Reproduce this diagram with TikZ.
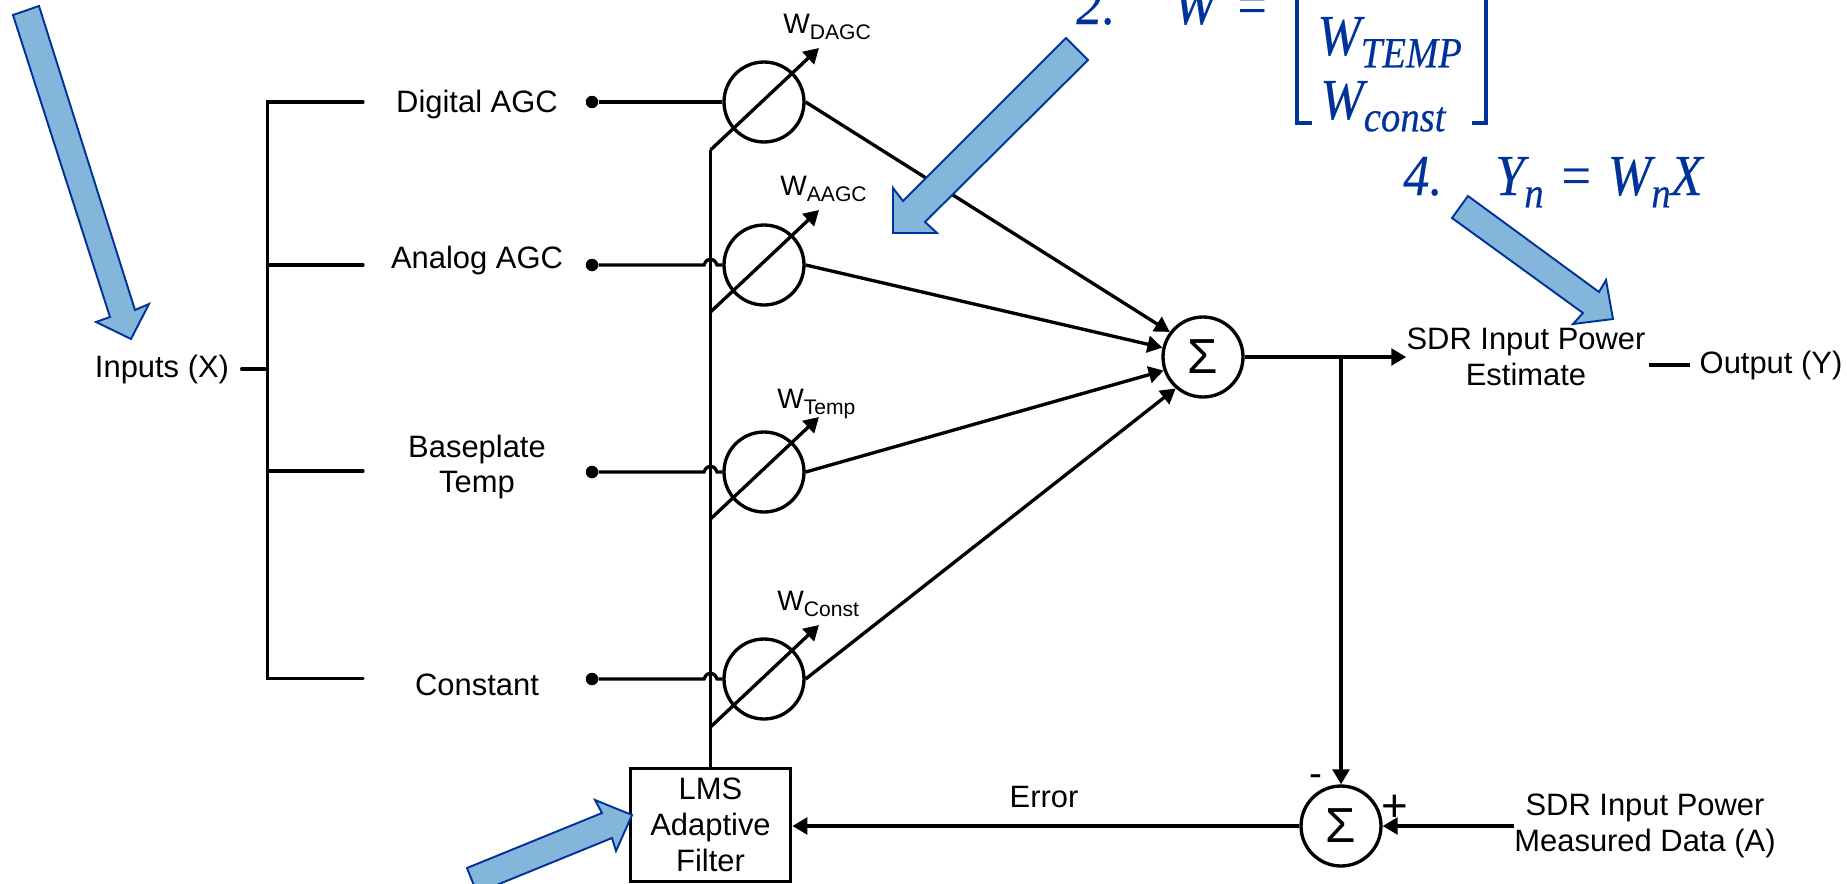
\documentclass[tikz,border=0pt]{standalone}
\usepackage{fontspec}
\setmainfont{Liberation Sans}
\newfontfamily\eqfont[FakeBold=0.3]{Liberation Serif}
\usetikzlibrary{arrows.meta}
\definecolor{notefill}{HTML}{84B6DB}
\definecolor{noteblue}{HTML}{003399}
\newcommand{\wlabel}[1]{W\raisebox{-3.5pt}{\fontsize{12}{12}\selectfont #1}}
\newcommand{\eqsub}[2]{#1\raisebox{-7pt}{\fontsize{24.5}{24.5}\selectfont #2}}
\tikzset{
	wire/.style={line width=1.9pt},
	flow/.style={line width=1.9pt,-{Triangle[length=8.5pt,width=9.5pt]}},
	lbl/.style={font=\fontsize{17.6}{20.4}\selectfont,align=center,inner sep=0pt},
	wtext/.style={font=\fontsize{16}{19}\selectfont,inner sep=0pt,anchor=base west},
	dotnode/.style={circle,fill=black,inner sep=0pt,minimum size=0.25cm},
	weight/.style={circle,draw,line width=1.9pt,inner sep=0pt,minimum size=1.6cm},
	sumnode/.style={circle,draw,line width=1.9pt,inner sep=0pt,minimum size=1.6cm,font=\fontsize{28}{28}\selectfont},
	note/.style={draw=noteblue,fill=notefill,line width=1.1pt,line join=miter},
	eqtext/.style={text=noteblue,font=\eqfont\itshape\fontsize{33}{35}\selectfont,inner sep=0pt,anchor=base west,xscale=0.9,transform shape},
}
\begin{document}
\begin{tikzpicture}[x=0.02cm,y=-0.02cm]
	\clip (0,0) rectangle (1847,883);
	\fill[white] (0,0) rectangle (1847,883);

	% Input labels and bus
	\node[lbl] (inx) at (162,369) {Inputs (X)};
	\node[lbl] (laba) at (477,104) {Digital AGC};
	\node[lbl] (labb) at (477,260) {Analog AGC};
	\node[lbl] (labc) at (477,467) {Baseplate\\Temp};
	\node[lbl] (labd) at (477,685) {Constant};
	\coordinate (bustop) at (267.5,102);
	\coordinate (busbot) at (267.5,678.5);
	\coordinate (ba) at (363,102);
	\coordinate (bb) at (363,265);
	\coordinate (bc) at (363,471);
	\coordinate (bd) at (363,678.5);
	\draw[wire,line cap=round] (ba) -- (bustop) -- (busbot) -- (bd);
	\draw[wire,line cap=round] (bustop |- bb) -- (bb);
	\draw[wire,line cap=round] (bustop |- bc) -- (bc);
	\draw[wire,line cap=round] ([xshift=7pt]inx.east) -- (bustop |- inx);

	% Weights
	\node[dotnode] (dota) at (592,102) {};
	\node[dotnode] (dotb) at (592,265) {};
	\node[dotnode] (dotc) at (592,472) {};
	\node[dotnode] (dotd) at (592,679) {};
	\node[weight] (wa) at (764,102) {};
	\node[weight] (wb) at (764,265) {};
	\node[weight] (wc) at (764,472) {};
	\node[weight] (wd) at (764,679) {};
	\draw[wire] (dota) -- (wa);
	\draw[wire] (dotb) -- (704,265) .. controls (707,257) and (714,257) .. (717,265) -- (wb);
	\draw[wire] (dotc) -- (704,472) .. controls (707,464) and (714,464) .. (717,472) -- (wc);
	\draw[wire] (dotd) -- (704,679) .. controls (707,671) and (714,671) .. (717,679) -- (wd);
	\node[wtext] (lwa) at (783,33) {\wlabel{DAGC}};
	\node[wtext] (lwb) at (780,195) {\wlabel{AAGC}};
	\node[wtext] (lwc) at (777,408) {\wlabel{Temp}};
	\node[wtext] (lwd) at (777,610) {\wlabel{Const}};

	% Filter and its control line
	\node[draw,lbl,line width=2.2pt,minimum width=3.2cm,minimum height=2.26cm] (lms) at (710.5,825) {LMS\\Adaptive\\Filter};
	\coordinate (ca) at (710.5,150);
	\coordinate (cb) at (710.5,312);
	\coordinate (cc) at (710.5,519);
	\coordinate (cd) at (710.5,727);
	\coordinate (ta) at (819,48);
	\coordinate (tb) at (819,210);
	\coordinate (tc) at (819,417);
	\coordinate (td) at (819,625);
	\draw[wire] (ca) -- (lms.north);
	\draw[flow] (ca) -- (ta);
	\draw[flow] (cb) -- (tb);
	\draw[flow] (cc) -- (tc);
	\draw[flow] (cd) -- (td);

	% Summing and output
	\node[sumnode] (suma) at (1203,357) {Σ};
	\node[sumnode] (sumb) at (1341,826) {Σ};
	\draw[flow] (wa.east) -- (suma.143);
	\draw[flow] (wb.east) -- (suma.167);
	\draw[flow] (wc.east) -- (suma.199);
	\draw[flow] (wd.east) -- (suma.229);
	\node[lbl] (est) at (1526,357) {SDR Input Power\\Estimate};
	\node[lbl] (outy) at (1771,365) {Output (Y)};
	\node[lbl] (meas) at (1645,826) {SDR Input Power\\Measured Data (A)};
	\coordinate (tap) at (1341,357);
	\draw[flow] (suma) -- (est);
	\draw[flow] (tap) -- (sumb);
	\draw[wire] ([xshift=2pt]est.east |- outy) -- ([xshift=-5.5pt]outy.west);
	\draw[flow] (meas.west |- sumb) -- (sumb);
	\draw[flow] (sumb) -- (lms.east |- sumb);
	\node[lbl] (err) at (1044,797) {Error};
	\node[lbl,font=\fontsize{22}{22}\selectfont] (minus) at (1316,781) {-};
	\node[lbl,font=\fontsize{26}{26}\selectfont] (plus) at (1395,808) {+};

	% Blue note arrows
	\draw[note] (39,6) -- (135,310) -- (149,304) -- (131,339) -- (96,322) -- (110,317) -- (13,15) -- cycle;
	\draw[note] (1066,38) -- (903,201) -- (893,188) -- (893,233) -- (937,233) -- (925,222) -- (1088,60) -- cycle;
	\draw[note] (1468,196) -- (1599,292) -- (1606,280) -- (1613,319) -- (1573,324) -- (1583,313) -- (1452,218) -- cycle;
	\draw[note] (632,815) -- (595,800) -- (602,813) -- (467,868) -- (477,893) -- (612,838) -- (616,851) -- cycle;

	% Equations
	\node[eqtext] (eqa) at (1076,24) {2.};
	\node[eqtext] (eqb) at (1173,24) {W\,\,=};
	\node[eqtext] (eqc) at (1317,-17) {\eqsub{W}{AAGC}};
	\node[eqtext] (eqd) at (1317,55) {\eqsub{W}{TEMP}};
	\node[eqtext] (eqe) at (1320,119) {\eqsub{W}{const}};
	\node[eqtext] (eqf) at (1403,195) {4.};
	\node[eqtext] (eqg) at (1495,195) {\eqsub{Y}{n}\;=\;\eqsub{W}{n}X};
	\draw[noteblue,line width=2.2pt] (1312,123) -- (1297,123) -- (1297,-5);
	\draw[noteblue,line width=2.2pt] (1472,123) -- (1486,123) -- (1486,-5);
\end{tikzpicture}
\end{document}
